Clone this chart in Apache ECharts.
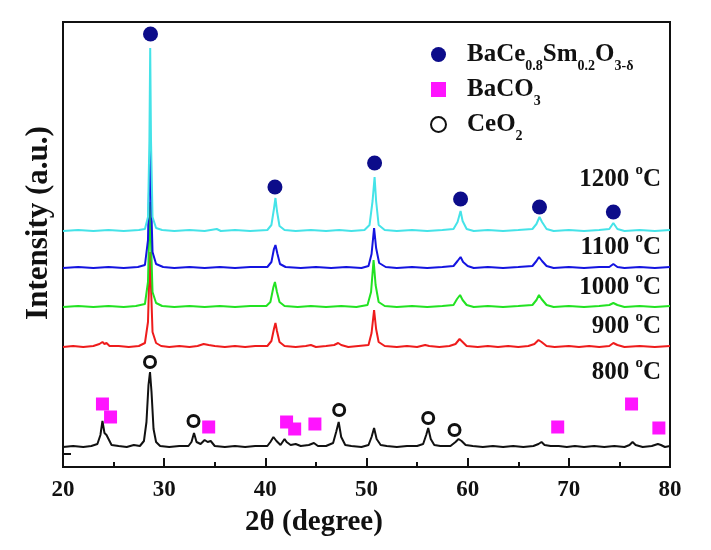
<!DOCTYPE html>
<html><head><meta charset="utf-8">
<script src="https://cdn.jsdelivr.net/npm/echarts@6/dist/echarts.min.js"></script>
<style>html,body{margin:0;padding:0;background:#fff}#c{width:711px;height:550px}</style>
</head><body><div id="c"></div>
<script>
const FONT = '"Liberation Serif","Times New Roman",serif';

// x axis (2θ) range / ticks
const xMin = 20, xMax = 80, xStep = 10;

// temperature labels and stacking offsets (arbitrary intensity units)
const temps = ['800', '900', '1000', '1100', '1200'];
const offsets = [20, 120, 160, 199, 236];

// XRD traces: [2θ, relative intensity]
const trace800 = [[20,0],[21,1],[22,0],[22.8,1],[23.4,3],[23.7,12],[23.9,26],[24.1,14],[24.3,12],[24.5,8],[24.8,2],[25.5,1],[26.3,0],[27,2],[27.6,1],[28.0,6],[28.25,25],[28.45,62],[28.6,75],[28.75,55],[28.95,18],[29.2,5],[29.6,1],[30.5,0],[31.5,1],[32.4,1],[32.7,5],[32.95,14],[33.2,5],[33.6,3],[34.0,7],[34.3,5],[34.6,6],[35.0,1],[36,0],[37,1],[38,0],[39,1],[40.2,1],[40.5,5],[40.8,10],[41.1,6],[41.5,2],[41.9,8],[42.1,5],[42.5,2],[43.0,3],[43.5,1],[44.3,2],[44.8,4],[45.2,1],[46.0,1],[46.7,4],[47.0,15],[47.25,25],[47.5,10],[47.9,2],[48.5,1],[49.5,0],[50.2,2],[50.5,10],[50.75,19],[51.0,8],[51.4,2],[52,1],[53,0],[54,1],[55,1],[55.6,3],[55.9,12],[56.1,19],[56.35,8],[56.7,2],[57.3,1],[58.3,1],[58.8,5],[59.1,8],[59.4,6],[59.8,2],[60.5,1],[61.5,0],[62.5,1],[63.5,0],[64.5,1],[65.5,0],[66.5,1],[67.0,3],[67.3,5],[67.6,2],[68.2,1],[69,1],[69.8,0],[70.6,1],[71.5,0],[72.5,1],[73.5,0],[74.5,1],[75.5,0],[76.0,2],[76.3,5],[76.6,2],[77.3,0],[78.2,1],[78.8,3],[79.1,2],[79.5,0],[80,1]];
const trace900 = [[20,0],[21,1],[22,0],[23,1],[23.6,3],[23.9,5],[24.1,3],[24.3,4],[24.6,1],[25.5,1],[26.5,0],[27.5,1],[28.1,4],[28.4,25],[28.54,75],[28.62,95],[28.7,60],[28.85,15],[29.2,4],[29.7,1],[30.5,0],[31.5,1],[32.5,0],[33.3,1],[33.9,3],[34.4,2],[35,1],[36,0],[37,1],[38,0],[39,1],[40.2,1],[40.6,6],[40.85,18],[41.0,24],[41.15,16],[41.4,5],[41.9,1],[43,0],[44,1],[44.5,2],[45,0],[46,1],[46.8,2],[47.2,4],[47.5,2],[48.2,0],[49.2,1],[50.2,2],[50.5,14],[50.75,37],[50.95,18],[51.2,5],[51.8,1],[53,0],[54,1],[55,0],[55.8,2],[56.2,1],[57.2,0],[58.2,1],[58.8,3],[59.2,8],[59.5,5],[59.9,1],[61,0],[62,1],[63,0],[64,1],[65,0],[66,1],[66.6,3],[67.0,7],[67.3,5],[67.8,1],[68.6,0],[70,1],[71,0],[72,1],[73,0],[74,1],[74.4,4],[74.8,2],[75.5,0],[77,1],[78.5,0],[80,1]];
const trace1000 = [[20,0],[21.5,1],[23,0],[24.5,1],[26,0],[27.2,1],[28.1,3],[28.4,25],[28.54,85],[28.62,105],[28.7,65],[28.85,15],[29.2,4],[29.8,1],[31,0],[32.5,1],[34,0],[35.5,1],[37,0],[38.5,1],[40.1,1],[40.5,5],[40.8,20],[40.95,25],[41.15,15],[41.4,5],[41.9,1],[43.2,0],[44.5,1],[46,0],[47.5,1],[49,0],[50.1,2],[50.45,15],[50.7,47],[50.9,22],[51.2,5],[51.8,1],[53,0],[54.5,1],[56,0],[57.5,1],[58.6,2],[58.95,8],[59.25,12],[59.5,7],[59.9,2],[60.6,0],[62,1],[63.5,0],[65,1],[66.4,2],[66.8,7],[67.05,12],[67.3,8],[67.8,2],[68.5,0],[70,1],[71.5,0],[73,1],[74.0,2],[74.4,4],[74.8,2],[75.5,0],[77,1],[78.5,0],[80,1]];
const trace1100 = [[20,0],[21.5,1],[23,0],[24.5,1],[26,0],[27.4,1],[28.1,3],[28.4,28],[28.54,95],[28.62,120],[28.7,70],[28.85,16],[29.2,4],[29.9,1],[31,0],[32.5,1],[34,0],[35.5,1],[37,0],[38.5,1],[40.2,1],[40.6,6],[40.85,19],[41.0,23],[41.2,14],[41.45,4],[42,1],[43.5,0],[45,1],[46.5,0],[48,1],[49.5,0],[50.2,2],[50.5,14],[50.75,40],[50.95,20],[51.25,5],[51.9,1],[53,0],[54.5,1],[56,0],[57.5,1],[58.6,2],[59.0,7],[59.3,11],[59.55,6],[60,2],[60.6,0],[62,1],[63.5,0],[65,1],[66.4,2],[66.8,7],[67.05,11],[67.35,7],[67.8,2],[68.5,0],[70,1],[71.5,0],[73,1],[74.0,1],[74.4,4],[74.8,1],[75.5,0],[77,1],[78.5,0],[80,1]];
const trace1200 = [[20,0],[21.5,1],[23,0],[24.5,1],[26,0],[27.5,1],[28.1,2],[28.4,14],[28.54,90],[28.62,183],[28.7,90],[28.85,14],[29.2,3],[29.8,1],[31,0],[32.5,1],[34,0],[35.2,2],[35.6,0],[37,1],[38.5,0],[40.2,1],[40.6,6],[40.85,22],[41.0,33],[41.15,20],[41.4,5],[41.9,1],[43,0],[44.5,1],[46,0],[47.3,1],[48.5,0],[49.8,1],[50.3,6],[50.6,30],[50.8,54],[50.95,30],[51.2,6],[51.8,1],[53,0],[54.5,1],[56,0],[57.5,1],[58.6,2],[59.0,9],[59.3,20],[59.5,10],[59.9,2],[60.6,0],[62,1],[63.5,0],[65,1],[66.4,2],[66.8,7],[67.1,14],[67.35,9],[67.8,2],[68.5,0],[70,1],[71.5,0],[73,1],[74.0,2],[74.4,8],[74.8,2],[75.5,0],[77,1],[78.5,0],[80,1]];
const traces = [trace800, trace900, trace1000, trace1100, trace1200];
const traceColors = ['#111111', '#ee1c1c', '#22e222', '#1414e0', '#45e3e8'];

// phase markers: [2θ, absolute height]
const phaseNames = ['BaCe0.8Sm0.2O3-δ', 'BaCO3', 'CeO2'];
const bcsMarks = [[28.65,433],[40.95,280],[50.8,304],[59.3,268],[67.1,260],[74.4,255]];
const baco3Marks = [[23.9,63],[24.7,50],[34.4,40],[42.1,45],[42.9,38],[44.9,43],[68.9,40],[76.2,63],[78.9,39]];
const ceo2Marks = [[28.6,105],[32.9,46],[47.3,57],[56.1,49],[58.7,37]];

const chart = echarts.init(document.getElementById('c'), null, {renderer: 'canvas'});

const lineSeries = traces.map((t, i) => ({
  type: 'line', name: temps[i] + ' °C', data: t.map(p => [p[0], p[1] + offsets[i]]),
  showSymbol: false, symbol: 'none', silent: true, z: 2 + i,
  lineStyle: {color: traceColors[i], width: 2}, itemStyle: {color: traceColors[i]}
}));

const rich = {
  f: {fontFamily: FONT, fontSize: 25, fontWeight: 'bold', color: '#111', padding: [0, 0, 0, 16]},
  b: {fontFamily: FONT, fontSize: 25, fontWeight: 'bold', color: '#111'},
  s: {fontFamily: FONT, fontSize: 14, fontWeight: 'bold', color: '#111', padding: [23, 0, 0, 0]}
};
const legendText = {
  'BaCe0.8Sm0.2O3-δ': '{f|BaCe}{s|0.8}{b|Sm}{s|0.2}{b|O}{s|3-δ}',
  'BaCO3': '{f|BaCO}{s|3}',
  'CeO2': '{f|CeO}{s|2}'
};

const tRich = {
  n: {fontFamily: FONT, fontSize: 25, fontWeight: 'bold', fill: '#111', color: '#111'},
  o: {fontFamily: FONT, fontSize: 15, fontWeight: 'bold', fill: '#111', color: '#111', padding: [0, 0, 20, 0]}
};
const tempY = [373, 327, 288, 248, 180];
const tempGraphics = temps.map((t, i) => ({
  type: 'text', x: 661, y: tempY[i], z: 10,
  style: {text: '{n|' + t + ' }{o|o}{n|C}', rich: tRich, align: 'right', verticalAlign: 'middle',
          textAlign: 'right', textVerticalAlign: 'middle'}
}));

chart.setOption({
  animation: false,
  backgroundColor: '#fff',
  grid: {left: 63, right: 41, top: 22, bottom: 83, show: true, borderColor: '#111', borderWidth: 2, outerBoundsMode: 'none'},
  xAxis: {
    type: 'value', min: xMin, max: xMax, interval: xStep,
    axisLine: {show: true, lineStyle: {color: '#111', width: 2}},
    axisTick: {show: true, inside: true, length: 9, lineStyle: {color: '#111', width: 2}},
    minorTick: {show: true, splitNumber: 2, length: 5, lineStyle: {color: '#111', width: 2}},
    splitLine: {show: false}, minorSplitLine: {show: false},
    axisLabel: {fontFamily: FONT, fontSize: 23, fontWeight: 'bold', color: '#111', margin: 12}
  },
  yAxis: {
    type: 'value', min: 0, max: 445,
    axisLine: {show: true, lineStyle: {color: '#111', width: 2}},
    axisTick: {show: true, inside: true, length: 8, customValues: [13], lineStyle: {color: '#111', width: 2}},
    axisLabel: {show: false}, splitLine: {show: false}
  },
  legend: {
    data: [
      {name: phaseNames[0], icon: 'circle'},
      {name: phaseNames[1], icon: 'rect'},
      {name: phaseNames[2], icon: 'circle'}
    ],
    orient: 'vertical', left: 430, top: 42, padding: 0, itemGap: 4,
    itemWidth: 15, itemHeight: 15, selectedMode: false,
    formatter: n => legendText[n],
    textStyle: {rich: rich}
  },
  series: lineSeries.concat([
    {type: 'scatter', name: phaseNames[0], data: bcsMarks, symbol: 'circle', symbolSize: 15, z: 20,
     itemStyle: {color: '#0c0c8a', opacity: 1}},
    {type: 'scatter', name: phaseNames[1], data: baco3Marks, symbol: 'rect', symbolSize: 13, z: 20,
     itemStyle: {color: '#ff14ff', opacity: 1}},
    {type: 'scatter', name: phaseNames[2], data: ceo2Marks, symbol: 'circle', symbolSize: 11, z: 20,
     itemStyle: {color: '#ffffff', borderColor: '#111', borderWidth: 3, opacity: 1}}
  ]),
  graphic: tempGraphics.concat([
    {type: 'text', x: 314, y: 523, z: 10,
     style: {text: '2θ (degree)', font: 'bold 29px ' + FONT, fill: '#111', align: 'center', verticalAlign: 'middle',
             textAlign: 'center', textVerticalAlign: 'middle'}},
    {type: 'text', x: 39, y: 223, rotation: Math.PI / 2, z: 10,
     style: {text: 'Intensity (a.u.)', font: 'bold 31px ' + FONT, fill: '#111', align: 'center', verticalAlign: 'middle',
             textAlign: 'center', textVerticalAlign: 'middle'}}
  ])
});
</script>
</body></html>
